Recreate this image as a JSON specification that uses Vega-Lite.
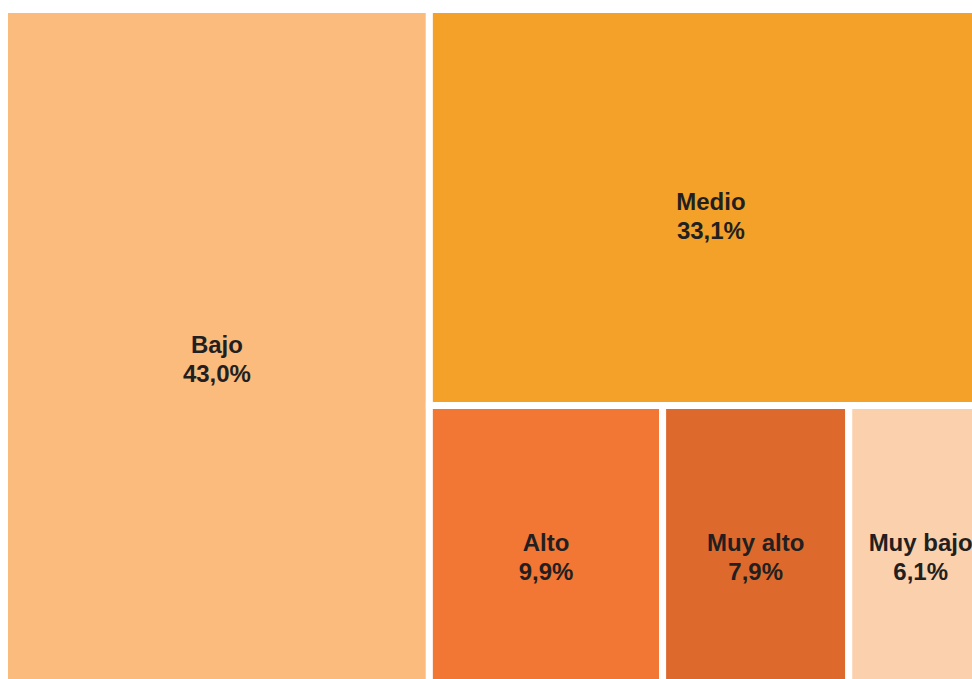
{
  "$schema": "https://vega.github.io/schema/vega-lite/v6.json",
  "autosize": "none",
  "width": 988,
  "height": 682,
  "padding": {"left": 4.5, "top": 9.5, "right": 0, "bottom": 0},
  "background": "white",
  "config": {"view": {"stroke": null}},
  "data": {
    "values": [
      {"categoria": "Bajo", "pct": 43.0},
      {"categoria": "Medio", "pct": 33.1},
      {"categoria": "Alto", "pct": 9.9},
      {"categoria": "Muy alto", "pct": 7.9},
      {"categoria": "Muy bajo", "pct": 6.1}
    ]
  },
  "transform": [
    {"window": [{"op": "row_number", "as": "i"}, {"op": "sum", "field": "pct", "as": "cum"}], "sort": [{"field": "pct", "order": "descending"}], "frame": [null, 0]},
    {"window": [{"op": "first_value", "field": "pct", "as": "p1"}, {"op": "nth_value", "field": "pct", "param": 2, "as": "p2"}, {"op": "sum", "field": "pct", "as": "total"}], "sort": [{"field": "pct", "order": "descending"}], "frame": [null, null]},
    {"calculate": "datum.i == 1 ? 0 : datum.i == 2 ? datum.p1 : datum.p1 + (datum.cum - datum.pct - datum.p1 - datum.p2) / (datum.total - datum.p1 - datum.p2) * (datum.total - datum.p1)", "as": "x0"},
    {"calculate": "datum.i == 1 ? datum.p1 : datum.i == 2 ? datum.total : datum.p1 + (datum.cum - datum.p1 - datum.p2) / (datum.total - datum.p1 - datum.p2) * (datum.total - datum.p1)", "as": "x1"},
    {"calculate": "datum.i <= 2 ? 0 : datum.p2 / (datum.total - datum.p1) * datum.total", "as": "y0"},
    {"calculate": "datum.i == 2 ? datum.p2 / (datum.total - datum.p1) * datum.total : datum.total", "as": "y1"},
    {"calculate": "(datum.x0 + datum.x1) / 2", "as": "xc"},
    {"calculate": "(datum.y0 + datum.y1) / 2", "as": "yc"},
    {"calculate": "[datum.categoria, replace(format(datum.pct, '.1f'), '.', ',') + '%']", "as": "label"}
  ],
  "encoding": {
    "color": {
      "field": "categoria",
      "type": "nominal",
      "scale": {
        "domain": ["Bajo", "Medio", "Alto", "Muy alto", "Muy bajo"],
        "range": ["#FABB7C", "#F4A12A", "#F27634", "#DD6A2C", "#FBD0AC"]
      },
      "legend": null
    }
  },
  "layer": [
    {
      "mark": {"type": "rect", "stroke": "white", "strokeWidth": 7, "opacity": 1},
      "encoding": {
        "x": {"field": "x0", "type": "quantitative", "scale": {"domain": [0, 100], "nice": false, "zero": false}, "axis": null},
        "x2": {"field": "x1"},
        "y": {"field": "y0", "type": "quantitative", "scale": {"domain": [0, 100], "nice": false, "zero": false, "reverse": true}, "axis": null},
        "y2": {"field": "y1"}
      }
    },
    {
      "mark": {"type": "text", "font": "Liberation Sans", "fontWeight": "bold", "fontSize": 24, "lineHeight": 29, "baseline": "middle", "align": "center", "dy": -5, "color": "#231F20"},
      "encoding": {
        "x": {"field": "xc", "type": "quantitative"},
        "y": {"field": "yc", "type": "quantitative"},
        "text": {"field": "label"},
        "color": {"value": "#231F20"}
      }
    }
  ]
}
